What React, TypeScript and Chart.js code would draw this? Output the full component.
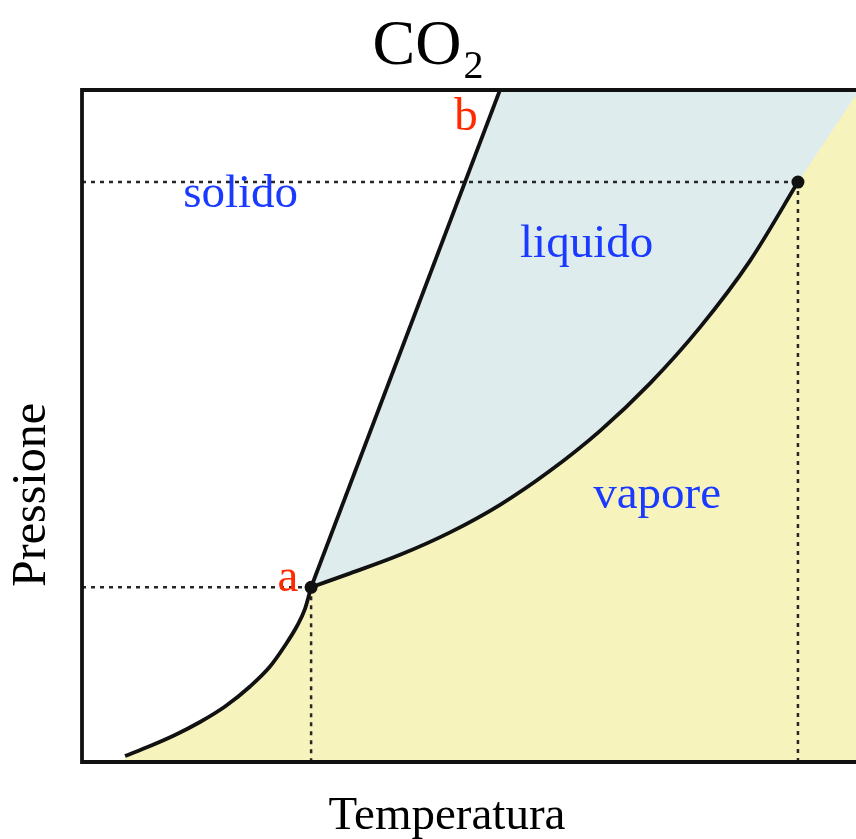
import React, { useEffect, useRef } from "react";
import { Chart, registerables } from "chart.js";

Chart.register(...registerables);

// ---- Data (arbitrary temperature / pressure units) ----
const sublimationT = [5.56, 8.79, 12.02, 15.25, 18.48, 21.71, 24.29, 26.23, 27.78, 28.81, 29.6];
const sublimationP = [0.89, 2.38, 4.02, 5.95, 8.26, 11.24, 14.21, 17.34, 20.24, 22.77, 26.0];

const vaporizationT = [29.6, 34.63, 41.09, 47.55, 54.01, 60.47, 66.93, 73.39, 79.84, 86.3, 92.5];
const vaporizationP = [26.0, 28.07, 30.83, 34.17, 38.27, 43.33, 49.28, 56.35, 64.68, 74.58, 86.3];

const meltingT = [29.6, 54.0];
const meltingP = [26.0, 100];

const supercriticalT = [92.5, 105];
const supercriticalP = [86.3, 107.9];

const liquidEdgeT = [29.6, 54.0, 115];
const liquidEdgeP = [26.0, 100, 100];

const specialT = [29.6, 92.5]; // triple point, critical point
const specialP = [26.0, 86.3];

const regionNames = ["solido", "liquido", "vapore"];
const regionT = [20.5, 65.2, 74.3];
const regionP = [82.6, 75.1, 37.8];

const pointNames = ["a", "b"];
const pointLabelT = [26.6, 49.6];
const pointLabelP = [25.4, 94.0];

const titleMain = "CO";
const titleSub = "2";
const xTitle = "Temperatura";
const yTitle = "Pressione";

const zip = (t: number[], p: number[]) => t.map((x, i) => ({ x, y: p[i] }));

const FONT = '"Liberation Serif", "Times New Roman", serif';
const BLUE_TEXT = "#1a3aff";
const RED_TEXT = "#ff2a00";
const LIQUID_FILL = "#deeced";
const VAPOR_FILL = "#f6f3bc";
const LINE = "#111111";
const DOT_LINE = "#262626";

const decorPlugin = {
  id: "decor",
  afterDatasetsDraw(chart: any) {
    const { ctx, chartArea } = chart;
    const { left, top, right, bottom } = chartArea;
    ctx.save();
    ctx.strokeStyle = LINE;
    ctx.lineWidth = 3.8;
    ctx.lineJoin = "miter";
    ctx.beginPath();
    ctx.moveTo(right + 10, top);
    ctx.lineTo(left, top);
    ctx.lineTo(left, bottom);
    ctx.lineTo(right + 10, bottom);
    ctx.stroke();
    ctx.restore();
  },
  afterDraw(chart: any) {
    const { ctx } = chart;
    const xs = chart.scales.x;
    const ys = chart.scales.y;
    ctx.save();
    ctx.textBaseline = "alphabetic";
    ctx.textAlign = "center";

    // region labels
    ctx.fillStyle = BLUE_TEXT;
    ctx.font = `47px ${FONT}`;
    regionNames.forEach((name, i) => {
      ctx.fillText(name, xs.getPixelForValue(regionT[i]), ys.getPixelForValue(regionP[i]));
    });

    // point labels
    ctx.fillStyle = RED_TEXT;
    ctx.font = `47px ${FONT}`;
    pointNames.forEach((name, i) => {
      ctx.fillText(name, xs.getPixelForValue(pointLabelT[i]), ys.getPixelForValue(pointLabelP[i]));
    });

    // title with subscript
    ctx.fillStyle = "#000";
    ctx.font = `64px ${FONT}`;
    const wMain = ctx.measureText(titleMain).width;
    ctx.font = `40px ${FONT}`;
    const wSub = ctx.measureText(titleSub).width;
    const startX = 428 - (wMain + wSub + 2) / 2;
    ctx.textAlign = "left";
    ctx.font = `64px ${FONT}`;
    ctx.fillText(titleMain, startX, 64);
    ctx.font = `40px ${FONT}`;
    ctx.fillText(titleSub, startX + wMain + 2, 78);

    // axis titles
    ctx.textAlign = "center";
    ctx.font = `47px ${FONT}`;
    ctx.fillText(xTitle, 447, 829);

    ctx.translate(45, 495);
    ctx.rotate(-Math.PI / 2);
    ctx.font = `48px ${FONT}`;
    ctx.fillText(yTitle, 0, 0);
    ctx.restore();
  },
};

export default function App() {
  const ref = useRef<HTMLCanvasElement | null>(null);

  useEffect(() => {
    document.body.style.margin = "0";
    const canvas = ref.current;
    if (!canvas) return;

    const dotted = (data: any[]) => ({
      data,
      borderColor: DOT_LINE,
      borderWidth: 2.5,
      borderDash: [4, 5],
      pointRadius: 0,
      fill: false,
      order: 4,
    });

    const chart = new Chart(canvas, {
      type: "line",
      data: {
        datasets: [
          {
            label: "liquido",
            data: zip(liquidEdgeT, liquidEdgeP),
            borderWidth: 0,
            borderColor: "rgba(0,0,0,0)",
            backgroundColor: LIQUID_FILL,
            fill: "origin",
            pointRadius: 0,
            order: 9,
          },
          {
            label: "supercritico",
            data: zip(supercriticalT, supercriticalP),
            borderWidth: 0,
            borderColor: "rgba(0,0,0,0)",
            backgroundColor: VAPOR_FILL,
            fill: "origin",
            pointRadius: 0,
            order: 8,
          },
          {
            label: "sublimazione",
            data: zip(sublimationT, sublimationP),
            borderColor: LINE,
            borderWidth: 3.8,
            backgroundColor: VAPOR_FILL,
            fill: "origin",
            cubicInterpolationMode: "monotone",
            pointRadius: 0,
            order: 2,
          },
          {
            label: "evaporazione",
            data: zip(vaporizationT, vaporizationP),
            borderColor: LINE,
            borderWidth: 3.8,
            backgroundColor: VAPOR_FILL,
            fill: "origin",
            cubicInterpolationMode: "monotone",
            pointRadius: 0,
            order: 2,
          },
          {
            label: "fusione",
            data: zip(meltingT, meltingP),
            borderColor: LINE,
            borderWidth: 3.8,
            fill: false,
            pointRadius: 0,
            order: 2,
          },
          dotted([{ x: 0, y: specialP[0] }, { x: specialT[0], y: specialP[0] }]),
          dotted([{ x: specialT[0], y: specialP[0] }, { x: specialT[0], y: 0 }]),
          dotted([{ x: 0, y: specialP[1] }, { x: specialT[1], y: specialP[1] }]),
          dotted([{ x: specialT[1], y: specialP[1] }, { x: specialT[1], y: 0 }]),
          {
            label: "punti",
            data: zip(specialT, specialP),
            showLine: false,
            pointRadius: 6.5,
            pointBackgroundColor: LINE,
            pointBorderColor: LINE,
            pointBorderWidth: 0,
            fill: false,
            order: 1,
          },
        ] as any,
      },
      options: {
        responsive: false,
        animation: false,
        devicePixelRatio: 1,
        layout: { autoPadding: false, padding: { left: 82, top: 90, right: 0, bottom: 77 } },
        scales: {
          x: { type: "linear", min: 0, max: 100, display: false },
          y: { type: "linear", min: 0, max: 100, display: false },
        },
        plugins: {
          legend: { display: false },
          tooltip: { enabled: false },
          title: { display: false },
          filler: { drawTime: "beforeDatasetsDraw" },
        },
        events: [],
      } as any,
      plugins: [decorPlugin],
    });

    return () => chart.destroy();
  }, []);

  return (
    <div style={{ position: "absolute", left: 0, top: 0, width: 856, height: 839, background: "#fff" }}>
      <canvas ref={ref} width={856} height={839} style={{ display: "block" }} />
    </div>
  );
}
